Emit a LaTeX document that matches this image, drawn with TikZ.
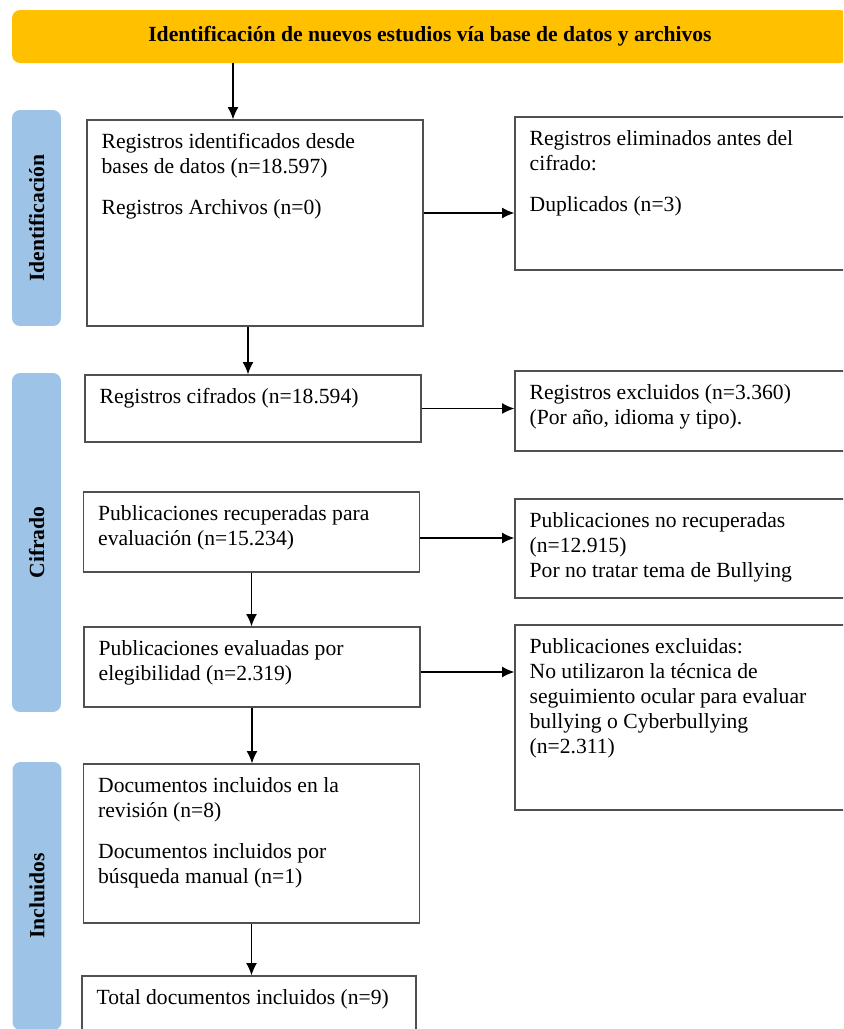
\documentclass[tikz,border=0pt]{standalone}
\usepackage{fontspec}
\setmainfont{Liberation Serif}
\usepackage{tikz}
\usetikzlibrary{arrows.meta}
\usetikzlibrary{positioning}
\definecolor{gold}{RGB}{255, 192, 0}
\definecolor{skyblue}{RGB}{157, 195, 230}
\definecolor{boxgray}{RGB}{80, 80, 80}

\tikzset{
    txt/.style={font=\fontsize{12.3}{14.2}\selectfont},
    phase/.style={txt, fill=skyblue, rounded corners=0.16cm, minimum width=0.98cm, inner sep=0pt},
    stepbox/.style={draw=boxgray, line width=0.8pt, minimum width=6.72cm, inner sep=0pt},
    boxtext/.style={txt, anchor=north west, align=left, inner xsep=0.3cm, inner ysep=0.28cm},
    arr/.style={-{Latex[length=7pt,width=6.2pt]}, line width=0.65pt}
}

\begin{document}
\begin{tikzpicture}[x=0.02cm, y=-0.02cm]
            \useasboundingbox                                              (0,0) rectangle (843,1029);
            \clip                                                          (0,0) rectangle (843,1029);
            % banner
            \node[txt, fill=gold, rounded corners=0.16cm, minimum width=16.72cm, minimum height=1.06cm]
                 (banner) at (430,36.5) {\textbf{Identificación de nuevos estudios vía base de datos y archivos}};
            % phases
            \node[phase, minimum height=4.32cm] (phId)   at (36.5,218)   {\rotatebox{90}{\textbf{Identificación}}};
            \node[phase, minimum height=6.78cm] (phCif)  at (36.5,542.5) {\rotatebox{90}{\textbf{Cifrado}}};
            \node[phase, minimum height=5.36cm] (phIncl) at (37,896)     {\rotatebox{90}{\textbf{Incluidos}}};
            % left column
            \node[stepbox, minimum height=4.12cm,
                 label={[boxtext]north west:{Registros identificados desde\\bases de datos (n=18.597)\\[0.32cm]Registros Archivos (n=0)}}]
                 (regId) at (255,223) {};
            \node[stepbox, minimum height=1.34cm,
                 label={[boxtext]north west:{Registros cifrados (n=18.594)}}]
                 (regCif) at (253,408.5) {};
            \node[stepbox, minimum height=1.6cm,
                 label={[boxtext]north west:{Publicaciones recuperadas para\\evaluación (n=15.234)}}]
                 (pubRec) at (251.5,532) {};
            \node[stepbox, minimum height=1.6cm,
                 label={[boxtext]north west:{Publicaciones evaluadas por\\elegibilidad (n=2.319)}}]
                 (pubEval) at (252,667) {};
            \node[stepbox, minimum height=3.18cm,
                 label={[boxtext]north west:{Documentos incluidos en la\\revisión (n=8)\\[0.32cm]Documentos incluidos por\\búsqueda manual (n=1)}}]
                 (docIncl) at (251.5,843.5) {};
            \node[stepbox, minimum height=1.6cm, minimum width=6.68cm,
                 label={[boxtext]north west:{Total documentos incluidos (n=9)}}]
                 (docTotal) at (249,1016) {};
            % right column
            \node[stepbox, minimum width=6.64cm, minimum height=3.06cm,
                 label={[boxtext]north west:{Registros eliminados antes del\\cifrado:\\[0.32cm]Duplicados (n=3)}}]
                 (regElim) at (681,193.5) {};
            \node[stepbox, minimum width=6.64cm, minimum height=1.6cm,
                 label={[boxtext]north west:{Registros excluidos (n=3.360)\\(Por año, idioma y tipo).}}]
                 (regExcl) at (681,411) {};
            \node[stepbox, minimum width=6.64cm, minimum height=1.98cm,
                 label={[boxtext]north west:{Publicaciones no recuperadas\\(n=12.915)\\Por no tratar tema de Bullying}}]
                 (pubNoRec) at (681,548.5) {};
            \node[stepbox, minimum width=6.64cm, minimum height=3.7cm,
                 label={[boxtext]north west:{Publicaciones excluidas:\\No utilizaron la técnica de\\seguimiento ocular para evaluar\\bullying o Cyberbullying\\(n=2.311)}}]
                 (pubExcl) at (681,717.5) {};
            % arrows
            \draw[arr] ([xshift=-0.44cm]regId.north |- banner.south) -- ([xshift=-0.44cm]regId.north);
            \draw[arr] ([xshift=-0.14cm]regId.south) -- ([xshift=-0.14cm]regId.south |- regCif.north);
            \draw[arr] ([yshift=0.2cm]regId.east)    -- ([yshift=0.2cm]regId.east -| regElim.west);
            \draw[arr] (regCif.east)                  -- (regCif.east -| regExcl.west);
            \draw[arr] ([yshift=-0.12cm]pubRec.east) -- ([yshift=-0.12cm]pubRec.east -| pubNoRec.west);
            \draw[arr] (pubRec.south)                 -- (pubRec.south |- pubEval.north);
            \draw[arr] ([yshift=-0.1cm]pubEval.east) -- ([yshift=-0.1cm]pubEval.east -| pubExcl.west);
            \draw[arr] (pubEval.south)                -- (pubEval.south |- docIncl.north);
            \draw[arr] (docIncl.south)                -- (docIncl.south |- docTotal.north);
\end{tikzpicture}
\end{document}
